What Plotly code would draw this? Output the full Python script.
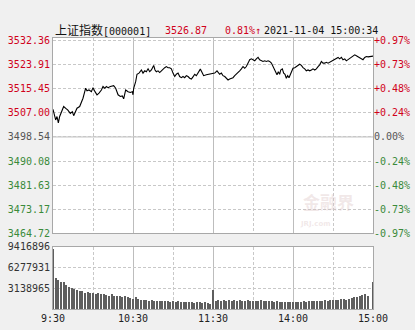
import plotly.graph_objects as go

# ---------------- data ----------------
prev_close = 3498.54
last_price = 3526.87
pct_change = "0.81%"
stamp = "2021-11-04 15:00:34"

price_ticks = [3464.72, 3473.17, 3481.63, 3490.08, 3498.54, 3507.00, 3515.45, 3523.91, 3532.36]
pct_ticks = ["-0.97%", "-0.73%", "-0.48%", "-0.24%", "0.00%", "+0.24%", "+0.48%", "+0.73%", "+0.97%"]
vol_ticks = [3138965, 6277931, 9416896]
time_vals = [0, 60, 120, 180, 240]
time_labels = ["9:30", "10:30", "11:30", "14:00", "15:00"]

# minutes after 9:30 (trading minutes, lunch removed) and index level
minutes = [0, 1.3, 2, 3, 4, 5, 6.3, 8, 10, 11, 13, 14.5, 15.5, 17, 18, 20, 21.3, 22.5, 23.8, 24.5,
           25.5, 27, 28.8, 30, 31.5, 33, 34.5, 36.3, 37.5, 38.8, 40, 41.3, 43, 45.5, 47, 48.8, 50.5,
           52, 53, 54.5, 56.3, 58, 59.5, 60, 60.5, 62, 63, 64.5, 66.3, 67.5, 68.8, 70, 71.3, 72.5,
           73.8, 75.5, 76.5, 77.5, 78.8, 80, 81.3, 82.5, 83.8, 85, 86.3, 87.5, 88.8, 90, 91.3, 92.5,
           93.8, 95, 96.3, 97.5, 98.8, 100, 101.3, 102.5, 103.8, 105, 106.3, 107.5, 108.8, 110.5,
           112, 113, 115, 117, 118.8, 120, 121.3, 123, 125, 126.3, 127.5, 128.8, 130, 131.3, 132.5,
           133.8, 135, 136.3, 137.5, 138.8, 140, 141.3, 142.5, 143.8, 145, 146.3, 147.5, 148.8, 150,
           151.3, 152.5, 153.8, 155, 156.3, 157.5, 158.8, 160, 161.3, 162.5, 163.8, 165, 166.3, 167,
           168, 169, 170, 170.8, 172, 173, 174, 175, 176, 177, 178, 179, 180, 181.3, 182.5, 183.8,
           185, 186.3, 187.5, 188.8, 190, 191.3, 192.5, 193.8, 195, 196.3, 197.5, 198.8, 200, 201.3,
           202.5, 203.8, 205, 206.3, 207.5, 208.8, 210, 211.3, 212.5, 213.8, 215, 216.3, 217.5, 218.8,
           220, 221.3, 222.5, 223.8, 225, 226.3, 227.5, 228.8, 230, 231.3, 232.5, 233.8, 235, 236.3,
           237.5, 238.5, 240]
prices = [3508.2, 3506.3, 3504.5, 3505.7, 3503.5, 3505.7, 3507.4, 3509.2, 3508.4, 3508.0, 3506.8,
          3507.4, 3506.0, 3508.0, 3508.6, 3509.2, 3510.7, 3512.1, 3514.4, 3515.6, 3514.7, 3515.0,
          3514.4, 3515.8, 3514.4, 3513.3, 3513.9, 3515.0, 3516.2, 3515.6, 3516.2, 3515.8, 3516.2,
          3516.5, 3515.6, 3513.3, 3512.7, 3512.9, 3511.9, 3515.0, 3514.4, 3514.1, 3514.4, 3513.3,
          3515.6, 3517.9, 3520.5, 3520.9, 3522.0, 3520.9, 3521.7, 3521.4, 3522.4, 3521.4, 3522.0,
          3523.6, 3522.0, 3521.4, 3521.7, 3521.1, 3521.7, 3522.4, 3522.8, 3523.2, 3522.8, 3522.8,
          3522.4, 3520.9, 3519.7, 3520.5, 3520.9, 3519.7, 3519.3, 3519.7, 3519.3, 3520.0, 3519.7,
          3519.1, 3518.8, 3519.6, 3520.5, 3520.0, 3520.9, 3522.3, 3520.9, 3520.0, 3520.3, 3520.5,
          3520.9, 3521.0, 3520.9, 3521.7, 3520.5, 3520.9, 3520.0, 3519.7, 3519.1, 3518.5, 3518.8,
          3519.1, 3519.3, 3520.0, 3520.5, 3520.9, 3521.7, 3522.4, 3523.2, 3522.6, 3523.2, 3524.4,
          3525.6, 3525.9, 3525.6, 3525.2, 3525.9, 3526.4, 3525.6, 3525.2, 3525.0, 3525.2, 3525.0,
          3525.2, 3525.0, 3524.4, 3523.2, 3522.0, 3520.9, 3520.3, 3521.4, 3520.5, 3522.0, 3522.4,
          3520.9, 3520.5, 3519.1, 3520.0, 3519.3, 3520.3, 3521.4, 3522.6, 3522.8, 3523.2, 3523.8,
          3524.0, 3523.6, 3522.8, 3522.4, 3521.7, 3522.0, 3521.7, 3522.0, 3522.4, 3522.0, 3522.4,
          3523.2, 3523.8, 3525.0, 3524.4, 3524.4, 3524.7, 3524.4, 3524.7, 3525.0, 3525.2, 3525.6,
          3526.1, 3526.4, 3525.9, 3526.4, 3525.6, 3525.9, 3525.2, 3525.6, 3525.9, 3526.4, 3526.7,
          3527.3, 3527.0, 3526.7, 3526.4, 3525.9, 3525.6, 3526.4, 3526.7, 3526.6, 3526.7, 3526.9,
          3526.87]

# volume, one bar per two minutes
vol_minutes = list(range(0, 242, 2))
volumes = [9170000, 4760000, 4410000, 4060000, 4160000, 3660000, 3410000, 3160000, 3060000, 2860000,
           2760000, 2660000, 2500000, 2550000, 2400000, 2500000, 2350000, 2400000, 2250000, 2300000,
           2150000, 2050000, 2250000, 2050000, 1900000, 1950000, 1800000, 1900000, 1750000, 1650000,
           1550000, 1750000, 1450000, 1350000, 1400000, 1350000, 1250000, 1400000, 1250000, 1150000,
           1250000, 1200000, 1150000, 1250000, 1100000, 1150000, 1050000, 1150000, 1100000, 1000000,
           1050000, 1100000, 1000000, 950000, 1050000, 1000000, 950000, 1000000, 900000, 800000,
           2900000, 1150000, 1350000, 1250000, 1400000, 1250000, 1300000, 1200000, 1300000, 1250000,
           1350000, 1200000, 1250000, 1300000, 1200000, 1250000, 1150000, 1250000, 1300000, 1200000,
           1150000, 1250000, 1200000, 1100000, 1150000, 1050000, 1100000, 1050000, 1000000, 1050000,
           1000000, 1050000, 1100000, 1050000, 1150000, 1100000, 1150000, 1200000, 1150000, 1200000,
           1250000, 1200000, 1300000, 1250000, 1350000, 1300000, 1400000, 1350000, 1450000, 1500000,
           1400000, 1550000, 1650000, 1750000, 1850000, 1950000, 2150000, 2350000, 2050000, 0,
           4150000]

# ---------------- styling ----------------
RED = "#d0021b"
GREEN = "#3a8a3a"
GRAY = "#555555"
MONO = "DejaVu Sans Mono, Noto Sans CJK SC"
GRID = "#c8c8c8"
BORDER = "#a8a8a8"


def colorize(vals, labels):
    out = []
    for v, t in zip(vals, labels):
        if abs(v - prev_close) < 0.01:
            c = GRAY
        elif v > prev_close:
            c = RED
        else:
            c = GREEN
        out.append(f'<span style="color:{c}">{t}</span>')
    return out


price_text = colorize(price_ticks, [f"{v:.2f}" for v in price_ticks])
pct_text = colorize(price_ticks, pct_ticks)

fig = go.Figure()
fig.add_trace(go.Scatter(x=minutes, y=prices, mode="lines", line=dict(color="black", width=1.1),
                         xaxis="x", yaxis="y", hoverinfo="skip"))
fig.add_trace(go.Scatter(x=minutes, y=prices, mode="lines", line=dict(color="rgba(0,0,0,0)", width=0),
                         xaxis="x", yaxis="y2", hoverinfo="skip"))
fig.add_trace(go.Bar(x=vol_minutes, y=volumes, marker=dict(color="#5e5e5e", line=dict(width=0)),
                     width=1.7, xaxis="x2", yaxis="y3", hoverinfo="skip"))

PRICE_TOP = 3533.2
xcommon = dict(range=[0, 240], tickvals=time_vals, showgrid=True, gridcolor="#bdbdbd", gridwidth=1,
               minor=dict(tickmode="linear", tick0=0, dtick=30, showgrid=True, gridcolor=GRID,
                          griddash="3px,2px", gridwidth=1),
               zeroline=False, showline=True, mirror=True, linecolor=BORDER, linewidth=1,
               ticks="", fixedrange=True, automargin=False)

fig.update_layout(
    width=415, height=330,
    margin=dict(l=53, r=42, t=38, b=21, autoexpand=False),
    paper_bgcolor="#f0f0f0", plot_bgcolor="#ffffff",
    showlegend=False, bargap=0,
    font=dict(family=MONO, size=10, color="#333333"),
    xaxis=dict(domain=[0, 1], anchor="y", showticklabels=False, **xcommon),
    xaxis2=dict(domain=[0, 1], anchor="y3", showticklabels=True, ticktext=time_labels,
                tickfont=dict(size=10, color="#222222"), matches="x", **xcommon),
    yaxis=dict(domain=[0.2786, 1], range=[3464.72, PRICE_TOP], tickvals=price_ticks, ticktext=price_text,
               showgrid=True, gridcolor=GRID, griddash="3px,2px", zeroline=False, automargin=False,
               showline=True, mirror=True, linecolor=BORDER, ticks="", tickfont=dict(size=10)),
    yaxis2=dict(overlaying="y", side="right", range=[3464.72, PRICE_TOP], tickvals=price_ticks,
                ticktext=pct_text, showgrid=False, zeroline=False, showline=False, ticks="",
                automargin=False, tickfont=dict(size=10)),
    yaxis3=dict(domain=[0, 0.2288], range=[0, 9416896], tickvals=vol_ticks,
                ticktext=[str(v) for v in vol_ticks], showgrid=True, gridcolor=GRID,
                griddash="3px,2px", zeroline=False, showline=True, mirror=True, linecolor=BORDER,
                automargin=False, ticks="", tickfont=dict(size=10, color="#333333")),
)

# solid previous-close line
fig.add_shape(type="line", xref="x", yref="y", x0=0, x1=240, y0=prev_close, y1=prev_close,
              line=dict(color="#bdbdbd", width=1), layer="below")

# header
hy = 1.0295
fig.add_annotation(xref="paper", yref="paper", x=0, y=hy, xanchor="left", yanchor="middle",
                   showarrow=False,
                   text='<span style="font-size:12px">上证指数</span>[000001]',
                   font=dict(family=MONO, size=10, color="#111111"))
fig.add_annotation(xref="paper", yref="paper", x=0.344, y=hy, xanchor="left", yanchor="middle",
                   showarrow=False, text=f"{last_price:.2f}", font=dict(family=MONO, size=10, color=RED))
fig.add_annotation(xref="paper", yref="paper", x=0.531, y=hy, xanchor="left", yanchor="middle",
                   showarrow=False, text=f"{pct_change}↑", font=dict(family=MONO, size=10, color=RED))
fig.add_annotation(xref="paper", yref="paper", x=0.653, y=hy, xanchor="left", yanchor="middle",
                   showarrow=False, text=stamp, font=dict(family=MONO, size=10, color="#111111"))

# faint watermark
fig.add_annotation(xref="paper", yref="paper", x=0.86, y=0.397, xanchor="center", yanchor="middle",
                   showarrow=False, text="<b>金融界</b>",
                   font=dict(family="Noto Sans CJK SC", size=17, color="rgba(215,190,190,0.35)"))
fig.add_annotation(xref="paper", yref="paper", x=0.82, y=0.312, xanchor="center", yanchor="middle",
                   showarrow=False, text="<b>JRJ.com</b>",
                   font=dict(family="DejaVu Sans", size=7, color="rgba(215,190,190,0.35)"))

fig.write_html("out.html")
